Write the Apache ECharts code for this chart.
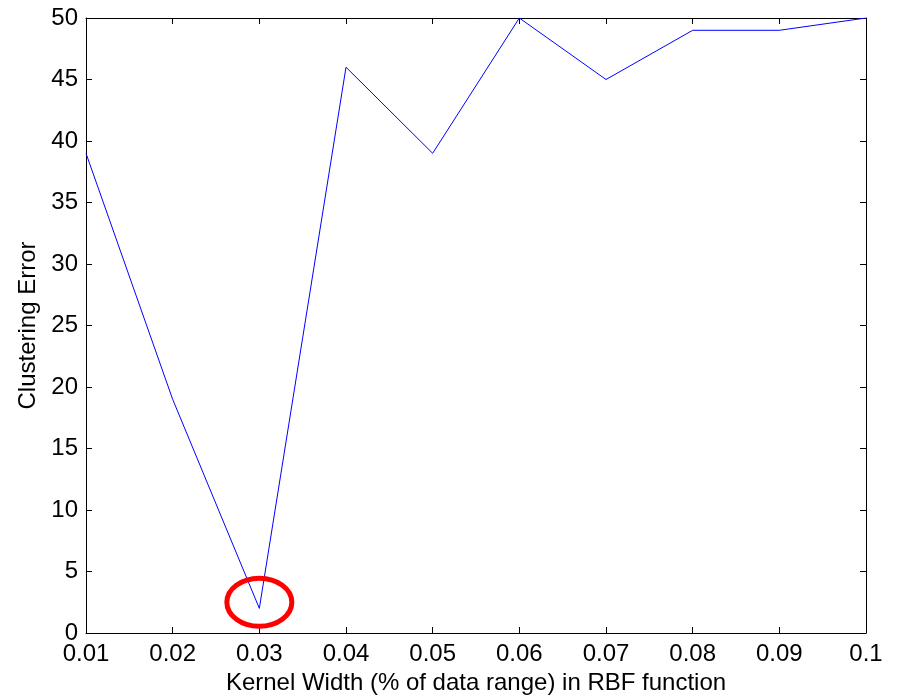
<!DOCTYPE html>
<html><head><meta charset="utf-8">
<script src="https://cdn.jsdelivr.net/npm/echarts@6/dist/echarts.min.js"></script>
<style>html,body{margin:0;padding:0;background:#fff}#c{width:898px;height:696px}</style>
</head><body><div id="c"></div>
<script>
const kernelWidths = [0.01, 0.02, 0.03, 0.04, 0.05, 0.06, 0.07, 0.08, 0.09, 0.1];
const clusteringError = [39, 19, 2, 46, 39, 50, 45, 49, 49, 50];
const highlightPoint = [0.03, 2.5];

const chart = echarts.init(document.getElementById('c'));
const font = 'Liberation Sans, Arial, sans-serif';
const axisCommon = {
  axisLine: {show: true, onZero: false, lineStyle: {color: '#000', width: 1}},
  axisTick: {show: true, inside: true, length: 6, lineStyle: {color: '#000'}},
  splitLine: {show: false}
};
chart.setOption({
  animation: false,
  grid: {left: 86, top: 18, right: 32, bottom: 63, containLabel: false, outerBoundsMode: 'none'},
  xAxis: [
    Object.assign({type: 'value', min: 0.01, max: 0.1, interval: 0.01,
      name: 'Kernel Width (% of data range) in RBF function', nameLocation: 'middle', nameGap: 36,
      nameTextStyle: {fontFamily: font, fontSize: 24, color: '#000'},
      axisLabel: {fontFamily: font, fontSize: 24, color: '#000', margin: 9,
        formatter: v => String(+v.toFixed(2))}}, axisCommon),
    Object.assign({type: 'value', min: 0.01, max: 0.1, interval: 0.01, position: 'top',
      axisLabel: {show: false}}, axisCommon)
  ],
  yAxis: [
    Object.assign({type: 'value', min: 0, max: 50, interval: 5,
      name: 'Clustering Error', nameLocation: 'middle', nameGap: 44,
      nameTextStyle: {fontFamily: font, fontSize: 24, color: '#000'},
      axisLabel: {fontFamily: font, fontSize: 24, color: '#000', margin: 8}}, axisCommon),
    Object.assign({type: 'value', min: 0, max: 50, interval: 5, position: 'right',
      axisLabel: {show: false}}, axisCommon)
  ],
  series: [{
    type: 'line',
    data: kernelWidths.map((x, i) => [x, clusteringError[i]]),
    showSymbol: false, symbol: 'none',
    lineStyle: {color: '#0000ff', width: 1},
    z: 3
  }]
});
const p = chart.convertToPixel({xAxisIndex: 0, yAxisIndex: 0}, highlightPoint);
chart.setOption({
  graphic: [{
    type: 'ellipse', shape: {cx: p[0], cy: p[1], rx: 32.5, ry: 24},
    style: {fill: 'none', stroke: '#ff0000', lineWidth: 5}, z: 100
  }]
});
</script></body></html>
